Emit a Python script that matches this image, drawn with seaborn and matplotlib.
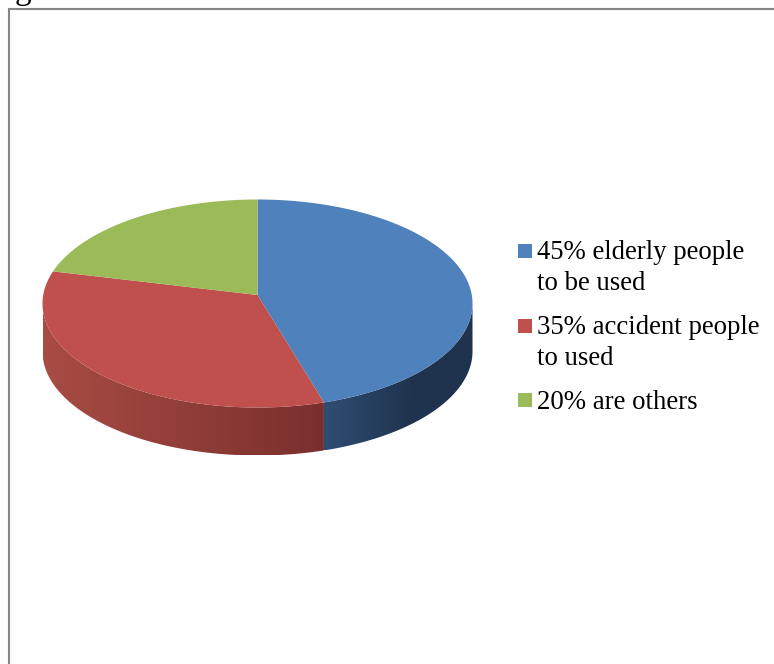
import numpy as np
import matplotlib
matplotlib.use("Agg")
import matplotlib.pyplot as plt
from matplotlib.colors import LinearSegmentedColormap
from matplotlib.patches import Polygon, Rectangle
import seaborn as sns

# Survey shares and their legend wording
shares = [45, 35, 20]
categories = ["45% elderly people\nto be used", "35% accident people\nto used", "20% are others"]
face_colors = ["#4f81bd", "#c0504d", "#9bbb59"]
wall_ramps = [
    [(0.0, "#2f4d73"), (0.6, "#1f334e"), (1.0, "#1f334e")],
    [(0.0, "#a84c44"), (1.0, "#7a2f2d")],
    [(0.0, "#7d9647"), (1.0, "#7d9647")],
]
legend_baselines = [259, 334, 408]
line_step = 30

sns.set_theme(style="white")
plt.rcParams["font.family"] = ["Liberation Serif", "DejaVu Serif"]
palette = sns.color_palette(face_colors)

fig = plt.figure(figsize=(7.74, 6.64), dpi=100)
ax = fig.add_axes([0, 0, 1, 1])
ax.set_xlim(0, 774)
ax.set_ylim(664, 0)
ax.axis("off")

# Pie geometry on the pixel-sized canvas
cx, cy = 257.5, 303.5
rx, ry = 215, 104
apex_y = 295
depth = 48


def rim(start, stop, n=200):
    """Points along the upper ellipse; angles run clockwise from 12 o'clock."""
    t = np.radians(np.linspace(start, stop, n))
    return cx + rx * np.sin(t), cy - ry * np.cos(t)


edges = np.concatenate([[0], np.cumsum(shares)]) / np.sum(shares) * 360

# Side wall: only the part between 3 o'clock and 9 o'clock faces the viewer
for i in range(len(shares)):
    a, b = max(edges[i], 90), min(edges[i + 1], 270)
    if b <= a:
        continue
    x, y = rim(a, b)
    outline = np.r_[np.c_[x, y], np.c_[x[::-1], y[::-1] + depth]]
    clip = Polygon(outline, closed=True, transform=ax.transData, fc="none", ec="none")
    ax.add_patch(clip)
    cmap = LinearSegmentedColormap.from_list(f"wall{i}", wall_ramps[i])
    img = ax.imshow(
        np.linspace(0, 1, 256)[None, :], cmap=cmap, vmin=0, vmax=1, aspect="auto",
        extent=(x.min(), x.max(), outline[:, 1].max(), outline[:, 1].min()),
        zorder=2,
    )
    img.set_clip_path(clip)

# Top face
for i in range(len(shares)):
    x, y = rim(edges[i], edges[i + 1])
    ax.fill(np.r_[cx, x], np.r_[apex_y, y], color=palette[i], lw=0, zorder=3)

ax.set_xlim(0, 774)
ax.set_ylim(664, 0)

# Chart frame, open on the right and bottom
frame = dict(color="#868686", lw=1.5, solid_capstyle="butt", zorder=1)
ax.plot([8.5, 8.5], [8, 664], **frame)
ax.plot([8, 774], [8.5, 8.5], **frame)

# Legend with each swatch level with the first line of its entry
for colour, label, base in zip(palette, categories, legend_baselines):
    ax.add_patch(Rectangle((518, base - 15), 14, 14, fc=colour, ec="none", zorder=3))
    # A multi-line text is anchored on the baseline of its last line
    last_line = base + 1 + line_step * label.count("\n")
    ax.text(537, last_line, label, fontsize=19.3, color="black", va="baseline", ha="left",
            linespacing=1.3, zorder=4)

# Heading line running in from above the frame
fig.text(15 / 774, 1 + 1 / 664, "g", fontsize=24, color="black", va="baseline")

fig.savefig("out.png", dpi=100)
